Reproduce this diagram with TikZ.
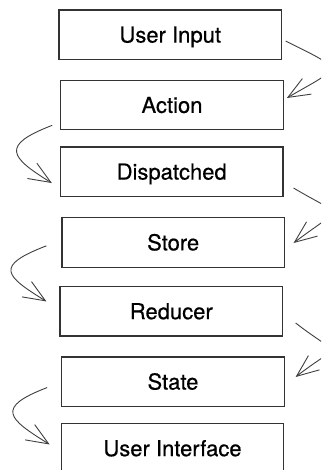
\documentclass[tikz,border=0pt]{standalone}
\usepackage{fontspec}
\setmainfont{TeX Gyre Heros}[UprightFeatures={FakeBold=0.5}]
\usetikzlibrary{arrows.meta,calc}
\begin{document}
\begin{tikzpicture}[x=1pt,y=-1pt,
  box/.style={draw=black!80, line width=1.2pt, minimum width=222.5pt,
    minimum height=49.5pt, inner sep=0pt, text height=15.75pt, text depth=0pt,
    font=\fontsize{22}{26}\selectfont, text=black},
  flow/.style={draw=black!75, line width=0.9pt,
    -{Straight Barb[length=22pt,width=18pt]}}]
\useasboundingbox (0,0) rectangle (321,470);
\clip (0,0) rectangle (321,470);
\fill[white] (0,0) rectangle (321,470);

% the stages of the data flow
\node[box] (input)      at (170.3,34.7)  {User Input};
\node[box] (action)     at (172.0,105.0) {Action};
\node[box] (dispatched) at (171.7,171.7) {Dispatched};
\node[box] (store)      at (173.2,242.5) {Store};
\node[box] (reducer)    at (171.3,311.3) {Reducer};
\node[box] (state)      at (173.0,381.7) {State};
\node[box] (ui)         at (172.5,448.3) {User Interface};

% right-hand loops
\draw[flow] ($(input.east)+(3.5,6.3)$) .. controls +(60,30) and +(55,-32) .. ($(action.east)+(3,-7)$);
\draw[flow] ($(dispatched.east)+(10,16.3)$) .. controls +(50,30) and +(50,-38) .. ($(store.east)+(8.5,0.5)$);
\draw[flow] ($(reducer.east)+(12.5,11.7)$) .. controls +(45,35) and +(45,-35) .. ($(state.east)+(10.75,-4.7)$);

% left-hand loops
\draw[flow] ($(action.south west)+(-8,-5)$) .. controls +(-52,20) and +(-42,-26) .. ($(dispatched.south west)+(-8,-14)$);
\draw[flow] ($(store.south west)+(-15,-22)$) .. controls +(-52,20) and +(-42,-26) .. ($(reducer.north west)+(-13,15.5)$);
\draw[flow] ($(state.south west)+(-14,-19.5)$) .. controls +(-52,20) and +(-42,-26) .. ($(ui.north west)+(-11,21.5)$);
\end{tikzpicture}
\end{document}
